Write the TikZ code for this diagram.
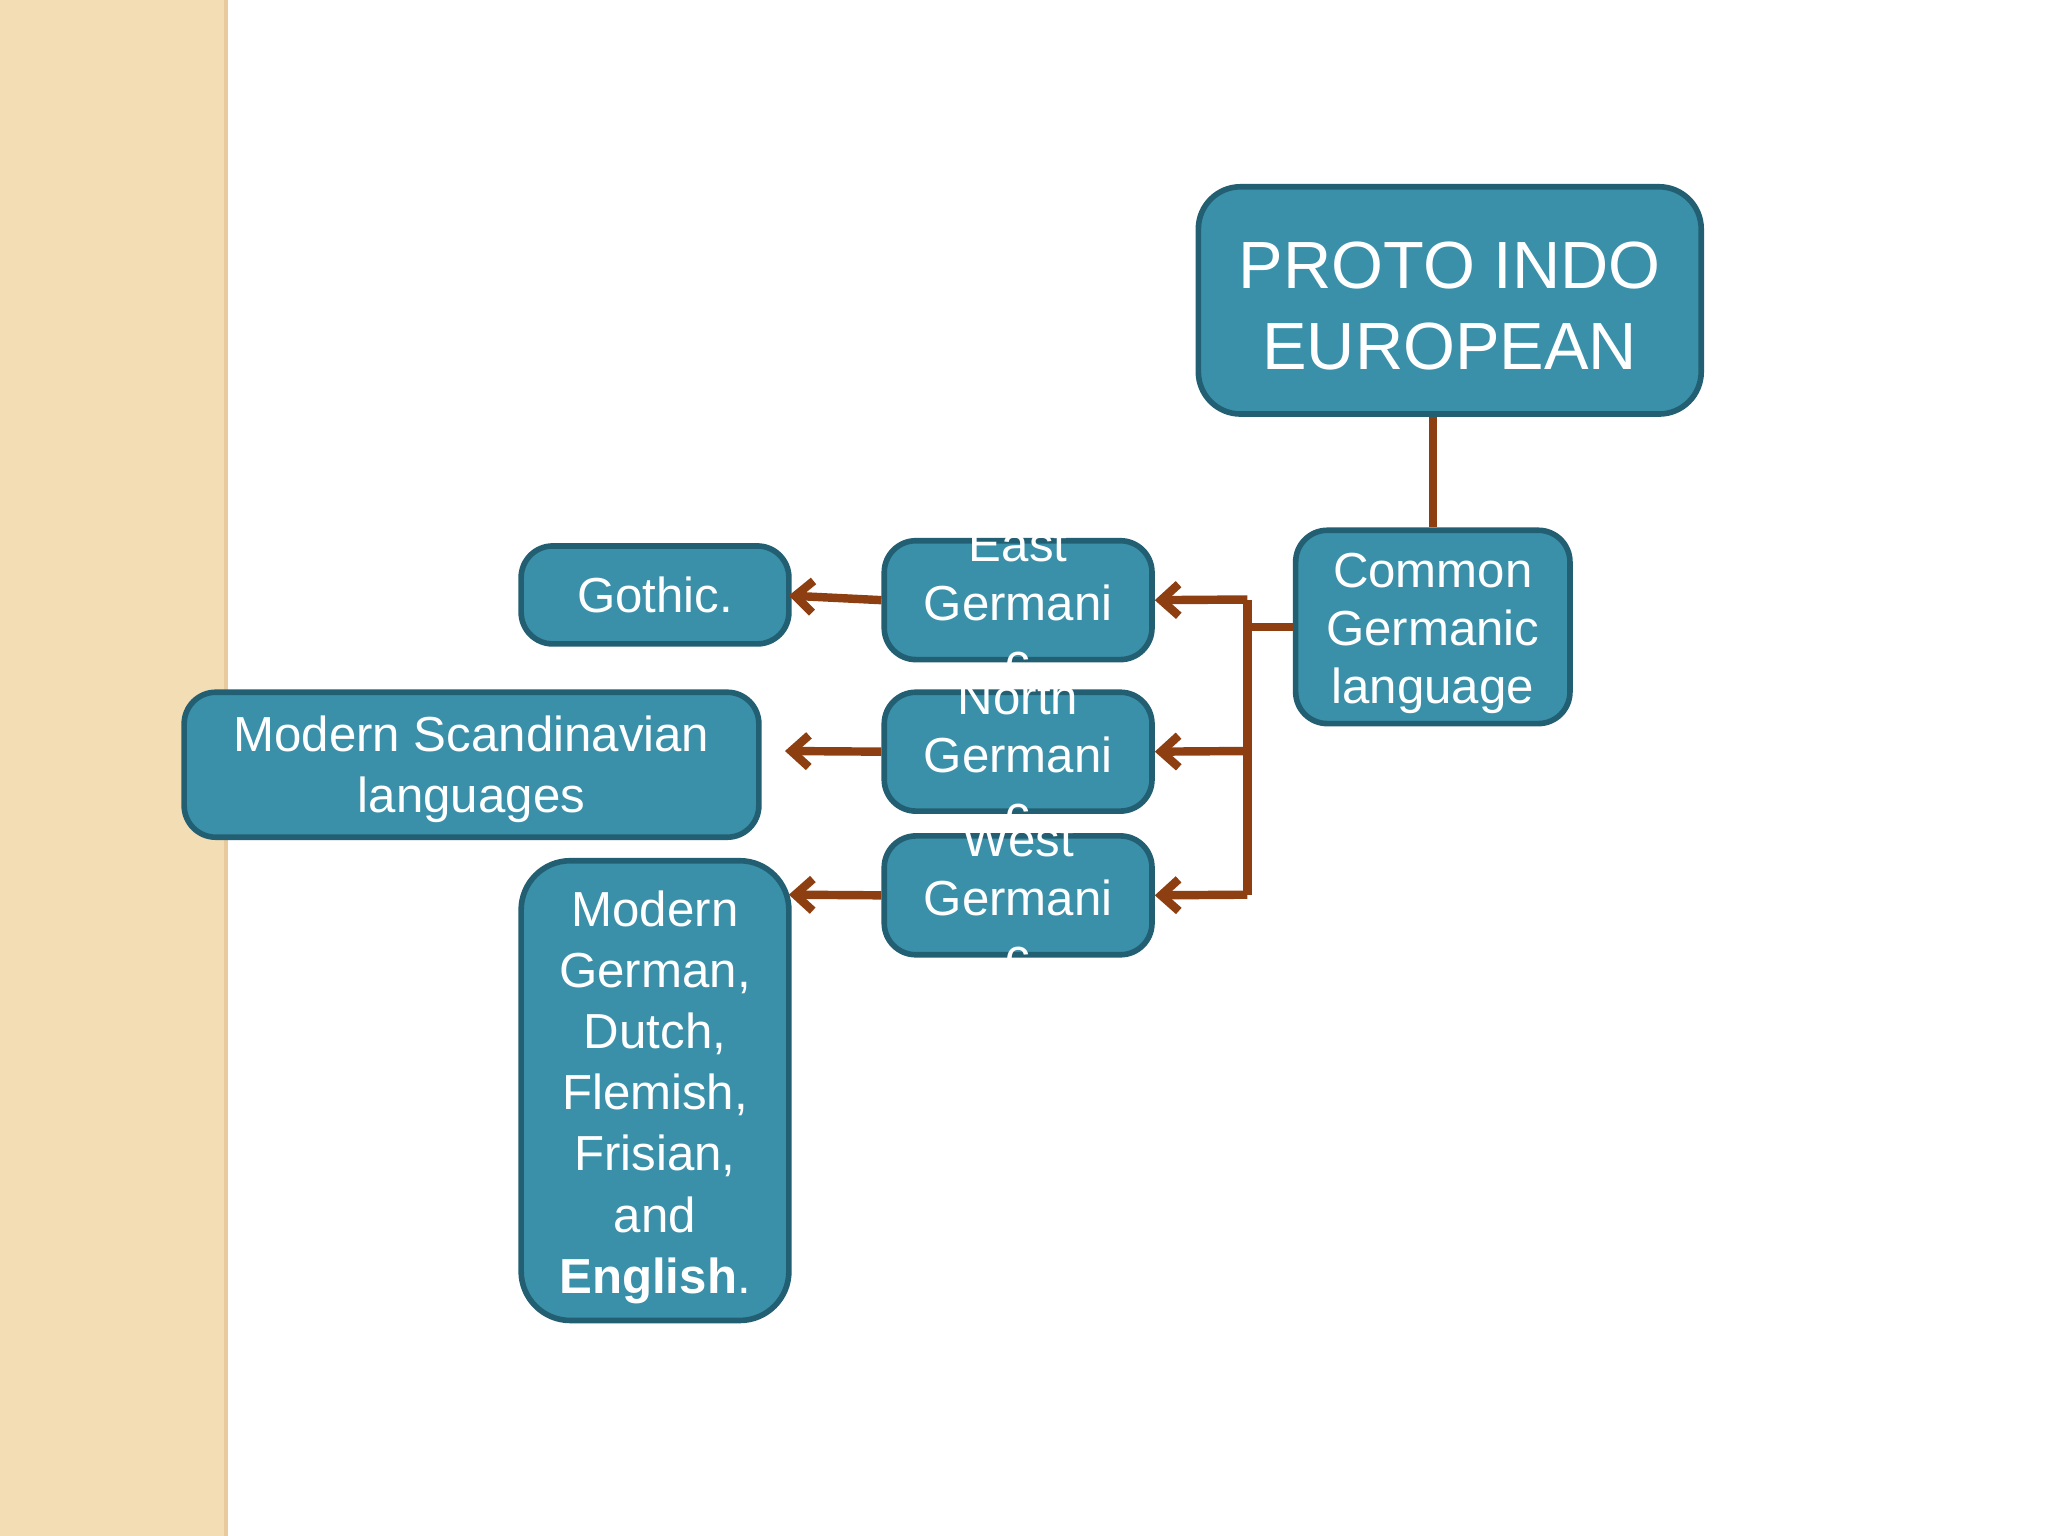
\documentclass[tikz,border=0pt]{standalone}
\usepackage{fontspec}
\setmainfont{Liberation Sans}
\usetikzlibrary{arrows.meta}
\definecolor{boxfill}{HTML}{3A90A9}
\definecolor{boxline}{HTML}{235F73}
\definecolor{arr}{HTML}{8E3F12}
\definecolor{beige}{HTML}{F2DDB4}
\begin{document}
\begin{tikzpicture}[x=0.013061cm,y=-0.013061cm,
  bx/.style={draw=boxline,line width=1.6pt,fill=boxfill,rounded corners=9pt,text=white,align=center,inner sep=0pt},
  con/.style={draw=arr,line width=2.4pt},
  arw/.style={con,-{Straight Barb[length=5pt,width=9pt]}}]
\useasboundingbox (0,0) rectangle (1568,1176);
\fill[white] (0,0) rectangle (1568,1176);
\fill[beige] (0,0) rectangle (173,1176);
\draw[beige!80!brown,line width=1pt] (173,0) -- (173,1176);
% boxes
\node[bx,minimum width=385*0.013061cm,minimum height=174*0.013061cm,font=\fontsize{19}{23}\selectfont,rounded corners=12pt] (pie) at (1110,230) {};
\node[font=\fontsize{19}{23}\selectfont,text=white,align=center] (piet) at (1110,234) {PROTO INDO\\EUROPEAN};
\node[bx,minimum width=210*0.013061cm,minimum height=148*0.013061cm] (cg) at (1097,480) {};
\node[font=\fontsize{14}{16.4}\selectfont,text=white,align=center] (cgt) at (1097,485) {Common\\Germanic\\language};
\node[bx,minimum width=205*0.013061cm,minimum height=91*0.013061cm] (east) at (779.5,459.5) {};
\node[font=\fontsize{14}{16.6}\selectfont,text=white,align=center] (eastt) at (779.5,462) {East\\Germani\\c};
\node[bx,minimum width=205*0.013061cm,minimum height=91*0.013061cm] (north) at (779.5,575.5) {};
\node[font=\fontsize{14}{16.6}\selectfont,text=white,align=center] (northt) at (779.5,578) {North\\Germani\\c};
\node[bx,minimum width=205*0.013061cm,minimum height=91*0.013061cm] (west) at (779.5,685.5) {};
\node[font=\fontsize{14}{16.6}\selectfont,text=white,align=center] (westt) at (779.5,688) {West\\Germani\\c};
\node[bx,minimum width=205*0.013061cm,minimum height=75*0.013061cm,font=\fontsize{14}{16.6}\selectfont] (goth) at (501.5,455.5) {Gothic.};
\node[bx,minimum width=440*0.013061cm,minimum height=111*0.013061cm] (scan) at (361,585.5) {};
\node[font=\fontsize{14}{17.4}\selectfont,text=white,align=center] (scant) at (361,589) {Modern Scandinavian\\languages};
\node[bx,minimum width=205*0.013061cm,minimum height=352*0.013061cm,rounded corners=14pt] (mod) at (501.5,835) {};
\node[font=\fontsize{14}{17.4}\selectfont,text=white,align=center] (modt) at (501.5,840) {Modern\\German,\\Dutch,\\Flemish,\\Frisian,\\and\\\textbf{English}.};
% connectors
\draw[con] (cg.north |- pie.south) -- (cg.north);
\coordinate (j) at (955,480);
\draw[con] (cg.west) -- (j);
\draw[con] (955,459) -- (955,685);
\draw[arw] (955,459) -- (east.east);
\draw[arw] (955,575) -- (north.east);
\draw[arw] (955,685) -- (west.east);
\coordinate (g1) at (604,456);
\coordinate (s1) at (601,575);
\coordinate (m1) at (604,685);
\draw[arw] (east.west) -- (g1);
\draw[arw] (north.west) -- (s1);
\draw[arw] (west.west) -- (m1);
\end{tikzpicture}
\end{document}
